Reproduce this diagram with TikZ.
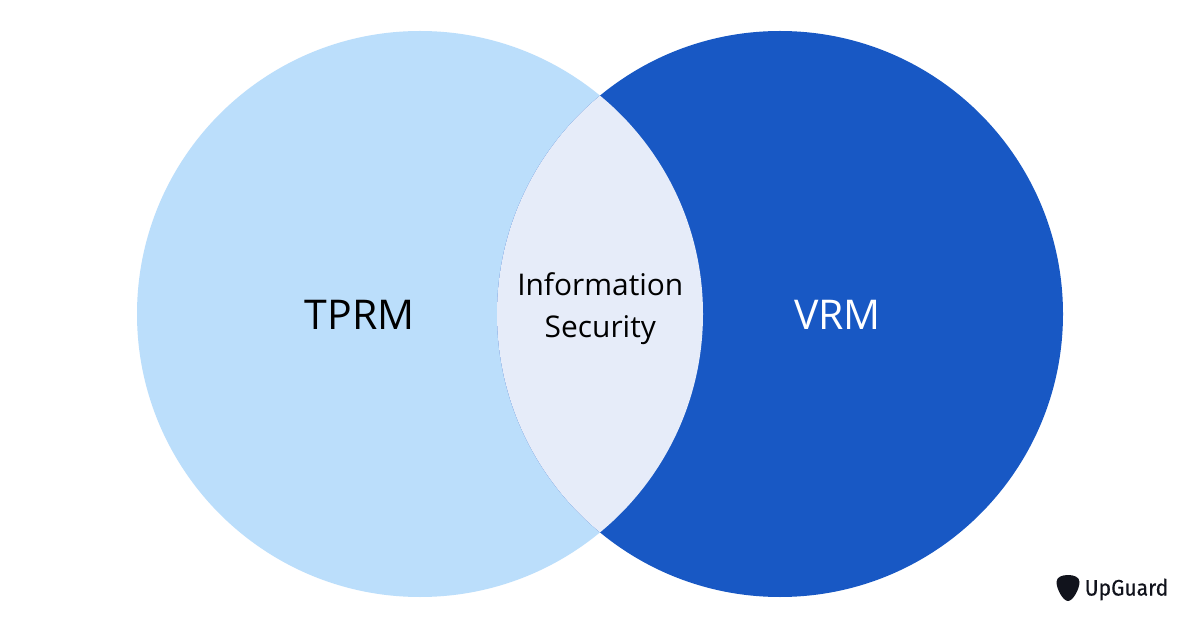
\documentclass[tikz,border=0pt]{standalone}
\usepackage{fontspec}
\setmainfont{Open Sans}
\newfontfamily\logofont[FakeBold=0.5,FakeStretch=0.94]{Fira Sans}
\definecolor{lightc}{HTML}{BBDEFB}
\definecolor{darkc}{HTML}{1858C4}
\definecolor{lensc}{HTML}{E6ECF9}
\definecolor{inkc}{HTML}{11131C}
\tikzset{
  lab/.style={inner sep=0pt,align=center,text=black},
}
\begin{document}
\begin{tikzpicture}[x=1pt,y=-1pt]
\useasboundingbox (0,0) rectangle (1200,628);
\fill[white] (0,0) rectangle (1200,628);
\fill[lightc] (420,314) circle[radius=283];
\fill[darkc] (780,314) circle[radius=283];
\begin{scope}
\clip (420,314) circle[radius=283];
\fill[lensc] (780,314) circle[radius=283];
\end{scope}
\node[lab,font=\fontsize{41}{46}\selectfont] (tprm) at (359.8,315) {TPRM};
\node[lab,font=\fontsize{41}{46}\selectfont,text=white] (vrm) at (837.5,315) {VRM};
\node[lab,font=\fontsize{29.9}{42}\selectfont] (info) at (600.3,309) {Information\\Security};
\fill[inkc] (1068,575) .. controls (1074,575) and (1079.5,577) .. (1079.5,582)
  .. controls (1079.5,589) and (1073,601) .. (1068,601)
  .. controls (1063,601) and (1056.5,589) .. (1056.5,582)
  .. controls (1056.5,577) and (1062,575) .. (1068,575) -- cycle;
\node[inner sep=0pt,anchor=west,text=inkc,font=\logofont\fontsize{22.4}{26}\selectfont] (logo) at (1084.5,589.5) {UpGuard};
\end{tikzpicture}
\end{document}
